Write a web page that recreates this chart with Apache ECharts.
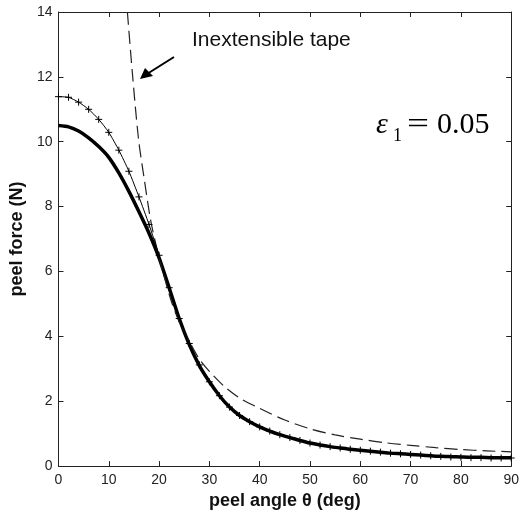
<!DOCTYPE html>
<html>
<head>
<meta charset="utf-8">
<script src="https://cdn.jsdelivr.net/npm/echarts@6/dist/echarts.min.js"></script>
<style>
html,body{margin:0;padding:0;background:#fff;}
#chart{width:522px;height:515px;}
</style>
</head>
<body>
<div id="chart"></div>
<script>
// ---- data ----
var thetaGrid = [0,2,4,6,8,10,12,14,16,18,20,22,24,26,28,30,32,34,36,38,40,42,44,46,48,50,52,54,56,58,60,62,64,66,68,70,72,74,76,78,80,82,84,86,88,90];
var thickForce = [10.5,10.46,10.33,10.12,9.85,9.52,9.04,8.47,7.84,7.18,6.42,5.5,4.55,3.75,3.1,2.6,2.17,1.82,1.56,1.37,1.21,1.08,0.97,0.88,0.79,0.71,0.65,0.6,0.56,0.52,0.49,0.46,0.43,0.4,0.38,0.36,0.34,0.32,0.3,0.29,0.28,0.27,0.27,0.26,0.26,0.26];
var crossForce = [11.39,11.37,11.22,11.0,10.69,10.29,9.74,9.09,8.3,7.45,6.5,5.5,4.55,3.78,3.12,2.6,2.17,1.82,1.56,1.37,1.21,1.08,0.97,0.88,0.79,0.71,0.65,0.6,0.56,0.52,0.49,0.46,0.43,0.4,0.38,0.36,0.34,0.32,0.3,0.28,0.27,0.26,0.26,0.25,0.25,0.25];
var inextTheta = [13.7,14.7,15.9,17,18.3,19.5,21,22.5,24,26,28,30,33,36,40,45,50,55,60,65,70,75,80,85,90];
var inextForce = [14,12.1,10.1,8.9,7.6,6.75,5.85,5.05,4.45,3.85,3.3,2.92,2.45,2.1,1.78,1.42,1.15,0.96,0.83,0.72,0.64,0.57,0.51,0.47,0.44];
var xTicks = {min:0, max:90, interval:10};
var yTicks = {min:0, max:14, interval:2};
var xName = 'peel angle θ (deg)';
var yName = 'peel force (N)';
var annotation = 'Inextensible tape';

function pairs(xs, ys){ return xs.map(function(x,i){ return [x, ys[i]]; }); }

var chart = echarts.init(document.getElementById('chart'), null, {renderer:'canvas'});
var axisCol = '#222';
var font = 'Liberation Sans, Arial, sans-serif';
var serif = 'Liberation Serif, Times New Roman, serif';
chart.setOption({
  animation:false,
  backgroundColor:'#fff',
  grid:{left:57, right:8, top:12, bottom:47},
  xAxis:[{
    type:'value', min:xTicks.min, max:xTicks.max, interval:xTicks.interval,
    name:xName, nameLocation:'middle', nameGap:21,
    nameTextStyle:{fontFamily:font, fontWeight:'bold', fontSize:18, color:'#111'},
    axisLine:{show:true, onZero:false, lineStyle:{color:axisCol, width:1}},
    axisTick:{show:true, inside:true, length:5, lineStyle:{color:axisCol}},
    axisLabel:{fontFamily:font, fontSize:14, color:'#222', margin:7},
    splitLine:{show:false}
  },{
    type:'value', position:'top', min:xTicks.min, max:xTicks.max, interval:xTicks.interval,
    axisLine:{show:true, onZero:false, lineStyle:{color:axisCol, width:1}},
    axisTick:{show:true, inside:true, length:5, lineStyle:{color:axisCol}},
    axisLabel:{show:false}, splitLine:{show:false}
  }],
  yAxis:[{
    type:'value', min:yTicks.min, max:yTicks.max, interval:yTicks.interval,
    name:yName, nameLocation:'middle', nameGap:29,
    nameTextStyle:{fontFamily:font, fontWeight:'bold', fontSize:18, color:'#111'},
    axisLine:{show:true, onZero:false, lineStyle:{color:axisCol, width:1}},
    axisTick:{show:true, inside:true, length:5, lineStyle:{color:axisCol}},
    axisLabel:{fontFamily:font, fontSize:14, color:'#222', margin:6},
    splitLine:{show:false}
  },{
    type:'value', position:'right', min:yTicks.min, max:yTicks.max, interval:yTicks.interval,
    axisLine:{show:true, onZero:false, lineStyle:{color:axisCol, width:1}},
    axisTick:{show:true, inside:true, length:5, lineStyle:{color:axisCol}},
    axisLabel:{show:false}, splitLine:{show:false}
  }],
  series:[{
    type:'line', data:pairs(thetaGrid, thickForce), showSymbol:false, smooth:0.2,
    lineStyle:{color:'#000', width:3.5}, z:2
  },{
    type:'line', data:pairs(inextTheta, inextForce), showSymbol:false, smooth:0.3,
    lineStyle:{color:'#222', width:1.2, type:[13,6]}, z:3, clip:true
  },{
    type:'line', data:pairs(thetaGrid, crossForce), smooth:0.2,
    symbol:'path://M5,0L5,10M0,5L10,5', symbolSize:7, showSymbol:true,
    itemStyle:{color:'transparent', borderColor:'#000', borderWidth:1},
    lineStyle:{color:'#000', width:1}, z:4
  }],
  graphic:[
    {type:'text', style:{x:192, y:40, text:annotation, font:'21px Liberation Sans, Arial, sans-serif', fill:'#111', verticalAlign:'middle'}},
    {type:'line', shape:{x1:174, y1:57, x2:147, y2:74}, style:{stroke:'#000', lineWidth:2}},
    {type:'polygon', shape:{points:[[140,79],[145,68],[153,76]]}, style:{fill:'#000'}},
    {type:'text', style:{x:376, y:125, text:'ε', font:'italic 30px ' + serif, fill:'#000', verticalAlign:'middle'}},
    {type:'text', style:{x:393, y:136, text:'1', font:'18px ' + serif, fill:'#000', verticalAlign:'middle'}},
    {type:'text', x:407, y:125, scaleX:1.3, style:{x:0, y:0, text:'=', font:'30px ' + serif, fill:'#000', verticalAlign:'middle'}},
    {type:'text', style:{x:437, y:125, text:'0.05', font:'30px ' + serif, fill:'#000', verticalAlign:'middle'}}
  ]
});
</script>
</body>
</html>
